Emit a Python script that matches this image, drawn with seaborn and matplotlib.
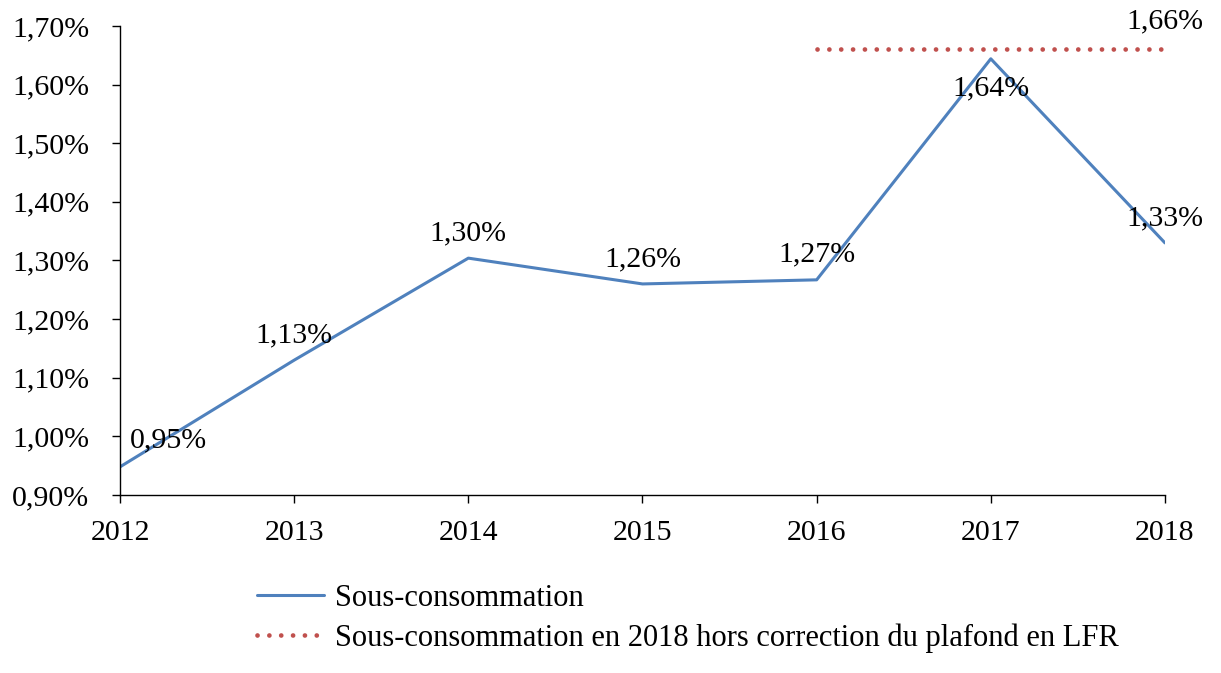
import matplotlib
matplotlib.use("Agg")
import matplotlib.pyplot as plt
import seaborn as sns
import pandas as pd
from matplotlib.ticker import FuncFormatter, FixedLocator

# ---- data ----
years = [2012, 2013, 2014, 2015, 2016, 2017, 2018]
sous_conso = [0.948, 1.13, 1.304, 1.26, 1.267, 1.644, 1.33]
sous_conso_labels = ["0,95%", "1,13%", "1,30%", "1,26%", "1,27%", "1,64%", "1,33%"]
hors_corr_years = [2016, 2018]
hors_corr_values = [1.66, 1.66]
hors_corr_label = "1,66%"
series_names = ["Sous-consommation",
                "Sous-consommation en 2018 hors correction du plafond en LFR"]
y_ticks = [0.90, 1.00, 1.10, 1.20, 1.30, 1.40, 1.50, 1.60, 1.70]

sns.set_theme(style="white")
plt.rcParams['font.family'] = ['Liberation Serif', 'DejaVu Serif']
plt.rcParams['text.color'] = 'black'

fig = plt.figure(figsize=(12.21, 6.73), dpi=100)
ax = fig.add_axes([0.0983, 0.2645, 0.8558, 0.6969])

df1 = pd.DataFrame({"year": years, "value": sous_conso})
df2 = pd.DataFrame({"year": hors_corr_years, "value": hors_corr_values})

sns.lineplot(data=df1, x="year", y="value", ax=ax, color="#4F81BD",
             linewidth=2.2, label=series_names[0])
sns.lineplot(data=df2, x="year", y="value", ax=ax, color="#C0504D",
             linewidth=3.4, linestyle=(0, (0.01, 2.5)),
             dash_capstyle="round", label=series_names[1])

ax.set_xlim(years[0], years[-1])
ax.set_ylim(y_ticks[0], y_ticks[-1])
ax.xaxis.set_major_locator(FixedLocator(years))
ax.yaxis.set_major_locator(FixedLocator(y_ticks))
ax.yaxis.set_major_formatter(FuncFormatter(lambda v, p: f"{v:.2f}".replace(".", ",") + "%"))
ax.set_xlabel("")
ax.set_ylabel("")

for s in ["top", "right"]:
    ax.spines[s].set_visible(False)
for s in ["left", "bottom"]:
    ax.spines[s].set_color("black")
    ax.spines[s].set_linewidth(1.0)
ax.tick_params(axis="both", which="major", direction="out", length=6,
               width=1.0, color="black", labelsize=21.5, labelcolor="black",
               bottom=True, left=True)
ax.tick_params(axis="y", pad=16)
ax.tick_params(axis="x", pad=12)

# data labels
offsets = [(35, 19), (0, 18), (0, 18), (0, 18), (0, 18), (0, -21), (0, 18)]
for x, y, lab, off in zip(years, sous_conso, sous_conso_labels, offsets):
    ax.annotate(lab, (x, y), xytext=off, textcoords="offset points",
                ha="center", va="center", fontsize=21.5, color="black",
                annotation_clip=False)
ax.annotate(hors_corr_label, (hors_corr_years[-1], hors_corr_values[-1]),
            xytext=(0, 20), textcoords="offset points", ha="center",
            va="center", fontsize=21.5, color="black", annotation_clip=False)

leg = ax.legend(loc="center left", bbox_to_anchor=(0.2105, 0.081),
                bbox_transform=fig.transFigure, frameon=False, fontsize=22,
                handlelength=2.2, handletextpad=0.36, labelspacing=0.35,
                borderpad=0, borderaxespad=0)

fig.savefig("out.png", dpi=100)
